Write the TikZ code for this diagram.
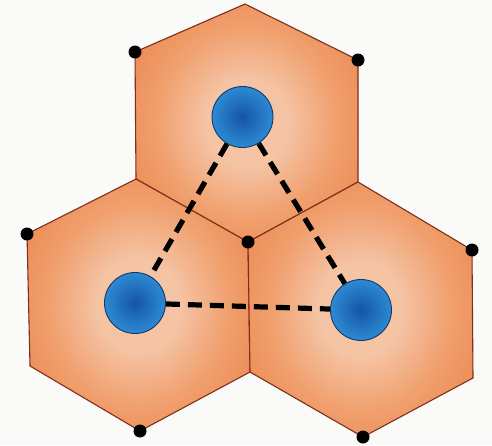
\documentclass[tikz,border=0pt]{standalone}
\usetikzlibrary{calc}
\definecolor{hexout}{RGB}{236,132,76}
\definecolor{hexmid}{RGB}{240,160,110}
\definecolor{hexin}{RGB}{245,196,165}
\definecolor{hexline}{RGB}{125,48,30}
\definecolor{bluein}{RGB}{20,84,168}
\definecolor{blueout}{RGB}{45,138,210}
\definecolor{blueline}{RGB}{18,55,105}
\definecolor{paper}{RGB}{250,250,248}
\pgfdeclareradialshading{hexshade}{\pgfpoint{0bp}{0bp}}{color(0bp)=(hexin); color(9bp)=(hexin); color(20bp)=(hexmid); color(33bp)=(hexout); color(60bp)=(hexout)}
\tikzset{
  hexcell/.style={draw=hexline, line width=1.1pt, shading=hexshade, line join=miter},
  atom/.style={circle, minimum size=61pt, inner sep=0pt, draw=blueline, line width=0.9pt, inner color=bluein, outer color=blueout},
  corner/.style={circle, fill=black, minimum size=13pt, inner sep=0pt},
  bond/.style={line width=5.2pt, dash pattern=on 14pt off 8pt}
}
\begin{document}
\begin{tikzpicture}[x=1pt,y=-1pt]
\fill[paper] (0,0) rectangle (492,445);
\useasboundingbox (0,0) rectangle (492,445);
% vertices
\coordinate (V)   at (248,242);
\coordinate (Ta)  at (245,4);
\coordinate (Tur) at (358,60);
\coordinate (Tlr) at (358,182);
\coordinate (Tll) at (136,179);
\coordinate (Tul) at (135,52);
\coordinate (Llr) at (250,372);
\coordinate (Lb)  at (140,431);
\coordinate (Lll) at (30,366);
\coordinate (Lul) at (27,234);
\coordinate (Rur) at (472,250);
\coordinate (Rlr) at (473,378);
\coordinate (Rb)  at (363,437);
% hexagons
\shadedraw[hexcell] (Ta) -- (Tur) -- (Tlr) -- (V) -- (Tll) -- (Tul) -- cycle;
\shadedraw[hexcell] (Tll) -- (V) -- (Llr) -- (Lb) -- (Lll) -- (Lul) -- cycle;
\shadedraw[hexcell] (Tlr) -- (Rur) -- (Rlr) -- (Rb) -- (Llr) -- (V) -- cycle;
% atoms
\node[atom] (t) at (242.5,117) {};
\node[atom] (l) at (135,303) {};
\node[atom] (r) at (361,310) {};
% bonds
\draw[bond] (t) -- (l);
\draw[bond] (t) -- (r);
\draw[bond] (l) -- (r);
% corner dots
\node[corner] (d1) at (Tul) {};
\node[corner] (d2) at (Tur) {};
\node[corner] (d3) at (V) {};
\node[corner] (d4) at (Lul) {};
\node[corner] (d5) at (Lb) {};
\node[corner] (d6) at (Rur) {};
\node[corner] (d7) at (Rb) {};
\end{tikzpicture}
\end{document}
